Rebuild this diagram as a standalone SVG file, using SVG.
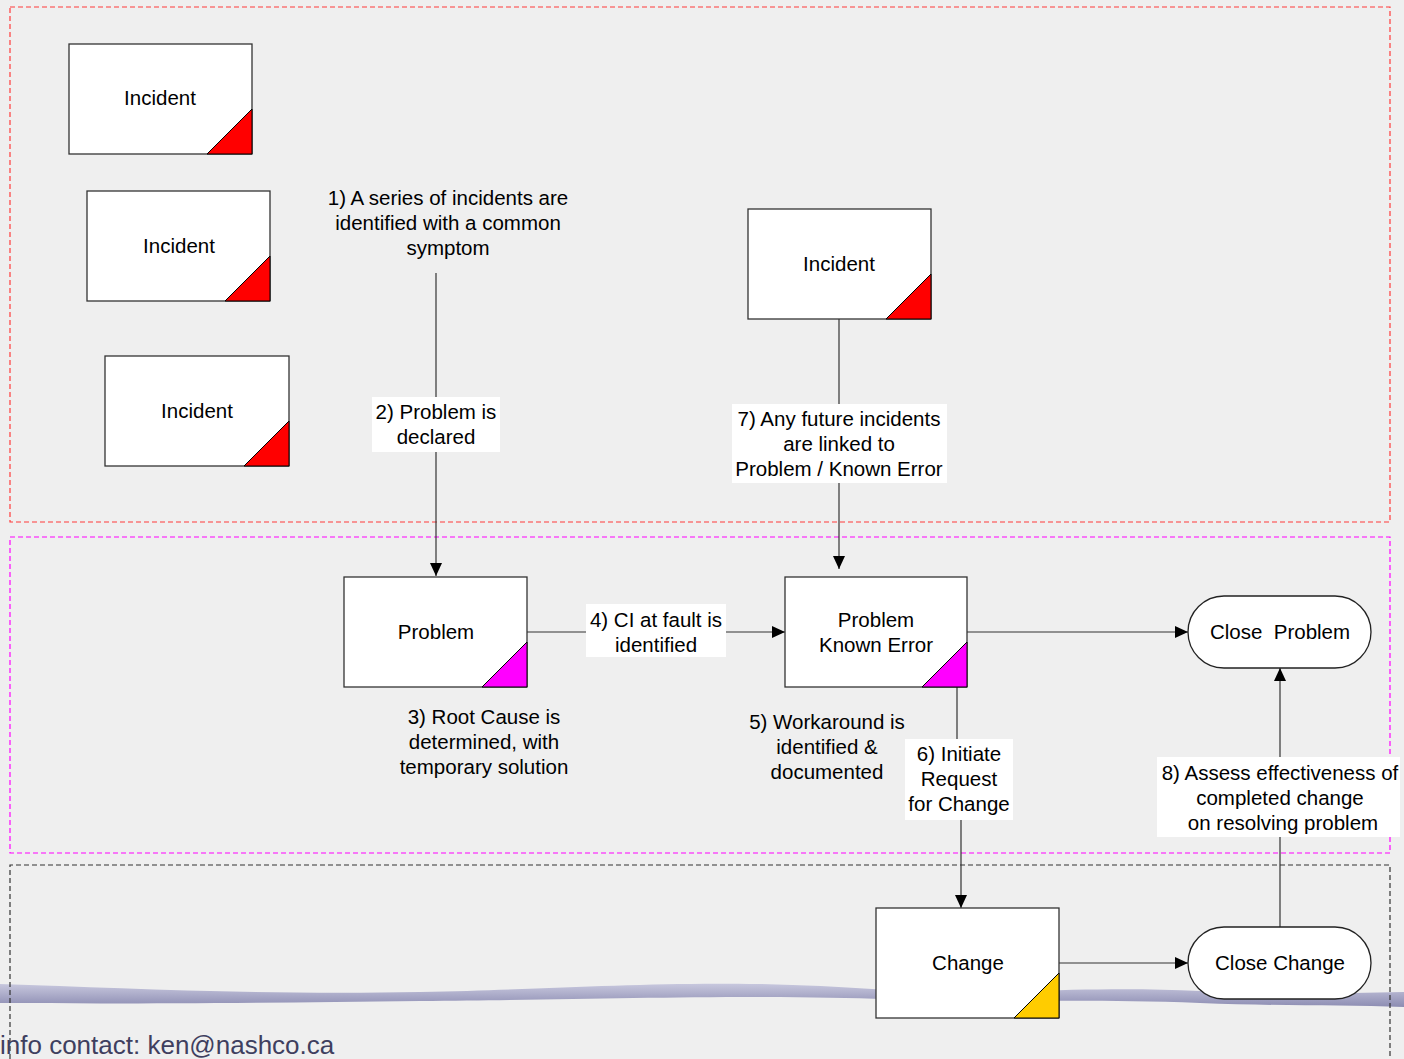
<svg xmlns="http://www.w3.org/2000/svg" width="1404" height="1059" viewBox="0 0 1404 1059">
  <defs>
    <marker id="arrow" viewBox="0 0 13 12" refX="13" refY="6" markerWidth="13" markerHeight="12" markerUnits="userSpaceOnUse" orient="auto">
      <path d="M0,0 L13,6 L0,12 Z" fill="#000"/>
    </marker>
    <linearGradient id="swoosh" x1="0" y1="0" x2="0" y2="1">
      <stop offset="0" stop-color="#c8c8de"/>
      <stop offset="1" stop-color="#8c8cb2"/>
    </linearGradient>
    <filter id="paper" x="0" y="0" width="100%" height="100%">
      <feTurbulence type="fractalNoise" baseFrequency="0.012 0.05" numOctaves="3" seed="4" result="n"/>
      <feColorMatrix in="n" type="matrix" values="0 0 0 0 0.86  0 0 0 0 0.86  0 0 0 0 0.86  0 0 0 0.9 -0.35"/>
    </filter>
    <style>
      text { font-family: "Liberation Sans", Arial, sans-serif; font-size: 20.5px; fill: #000; text-anchor: middle; }
      .box { fill: #fff; stroke: #333; stroke-width: 1.3; }
      .term { fill: #fff; stroke: #222; stroke-width: 1.3; }
      .edge { fill: none; stroke: #333; stroke-width: 1.2; }
      .lbl { fill: #fff; }
      .zone { fill: none; stroke-width: 1.2; stroke-dasharray: 5 3; }
      .corner { stroke: #000; stroke-width: 1; }
    </style>
  </defs>

  <!-- slide background with light paper grain -->
  <rect x="0" y="0" width="1404" height="1059" fill="#efefef"/>
  <rect x="0" y="0" width="1404" height="1059" filter="url(#paper)"/>
  <path d="M0,984 C120,988 260,995 420,992 C560,989 640,982 760,984 C860,986 920,995 1000,992 C1080,989 1140,988 1200,991 C1280,995 1340,993 1404,992 L1404,1007 C1340,1005 1280,1006 1200,1003 C1120,1000 1060,1001 1000,1001 C920,1001 860,997 760,997 C640,997 560,1000 420,1001 C260,1003 120,1004 0,1003 Z" fill="url(#swoosh)"/>

  <!-- swimlane zones -->
  <rect class="zone" x="10" y="7" width="1380" height="515" stroke="#ff3b3b"/>
  <rect class="zone" x="10" y="537" width="1380" height="316" stroke="#ff00ff"/>
  <path class="zone" d="M10,1059 V865 H1390 V1059" stroke="#333"/>

  <!-- connectors -->
  <g id="connectors">
    <line class="edge" x1="436" y1="273" x2="436" y2="576" marker-end="url(#arrow)"/>
    <line class="edge" x1="839" y1="319" x2="839" y2="569" marker-end="url(#arrow)"/>
    <line class="edge" x1="527" y1="632" x2="785" y2="632" marker-end="url(#arrow)"/>
    <line class="edge" x1="967" y1="632" x2="1188" y2="632" marker-end="url(#arrow)"/>
    <path class="edge" d="M957,687 V780 H961 V908" marker-end="url(#arrow)"/>
    <line class="edge" x1="1059" y1="963" x2="1188" y2="963" marker-end="url(#arrow)"/>
    <line class="edge" x1="1280" y1="927" x2="1280" y2="668" marker-end="url(#arrow)"/>

    <!-- connector labels -->
    <text x="448" y="205">1) A series of incidents are</text>
    <text x="448" y="230">identified with a common</text>
    <text x="448" y="255">symptom</text>

    <rect class="lbl" x="372" y="397" width="128" height="55"/>
    <text x="436" y="419">2) Problem is</text>
    <text x="436" y="444">declared</text>

    <text x="484" y="724">3) Root Cause is</text>
    <text x="484" y="749">determined, with</text>
    <text x="484" y="774">temporary solution</text>

    <rect class="lbl" x="586" y="604" width="140" height="53"/>
    <text x="656" y="627">4) CI at fault is</text>
    <text x="656" y="652">identified</text>

    <text x="827" y="729">5) Workaround is</text>
    <text x="827" y="754">identified &amp;</text>
    <text x="827" y="779">documented</text>

    <rect class="lbl" x="905" y="739" width="108" height="81"/>
    <text x="959" y="761">6) Initiate</text>
    <text x="959" y="786">Request</text>
    <text x="959" y="811">for Change</text>

    <rect class="lbl" x="732" y="404" width="215" height="79"/>
    <text x="839" y="426">7) Any future incidents</text>
    <text x="839" y="451">are linked to</text>
    <text x="839" y="476">Problem / Known Error</text>

    <rect class="lbl" x="1157" y="757" width="243" height="80"/>
    <text x="1280" y="780">8) Assess effectiveness of</text>
    <text x="1280" y="805">completed change</text>
    <text x="1283" y="830">on resolving problem</text>
  </g>

  <!-- nodes -->
  <g id="incident-1">
    <rect class="box" x="69" y="44" width="183" height="110"/>
    <path class="corner" d="M207,154 L252,109 L252,154 Z" fill="#ff0000"/>
    <text x="160" y="105">Incident</text>
  </g>
  <g id="incident-2">
    <rect class="box" x="87" y="191" width="183" height="110"/>
    <path class="corner" d="M225,301 L270,256 L270,301 Z" fill="#ff0000"/>
    <text x="179" y="253">Incident</text>
  </g>
  <g id="incident-3">
    <rect class="box" x="105" y="356" width="184" height="110"/>
    <path class="corner" d="M244,466 L289,421 L289,466 Z" fill="#ff0000"/>
    <text x="197" y="418">Incident</text>
  </g>
  <g id="incident-4">
    <rect class="box" x="748" y="209" width="183" height="110"/>
    <path class="corner" d="M886,319 L931,274 L931,319 Z" fill="#ff0000"/>
    <text x="839" y="271">Incident</text>
  </g>
  <g id="problem">
    <rect class="box" x="344" y="577" width="183" height="110"/>
    <path class="corner" d="M482,687 L527,642 L527,687 Z" fill="#ff00ff"/>
    <text x="436" y="639">Problem</text>
  </g>
  <g id="known-error">
    <rect class="box" x="785" y="577" width="182" height="110"/>
    <path class="corner" d="M922,687 L967,642 L967,687 Z" fill="#ff00ff"/>
    <text x="876" y="627">Problem</text>
    <text x="876" y="652">Known Error</text>
  </g>
  <g id="change">
    <rect class="box" x="876" y="908" width="183" height="110"/>
    <path class="corner" d="M1014,1018 L1059,973 L1059,1018 Z" fill="#ffcc00"/>
    <text x="968" y="970">Change</text>
  </g>
  <g id="close-problem">
    <rect class="term" x="1188" y="596" width="183" height="72" rx="36" ry="36"/>
    <text x="1280" y="639" xml:space="preserve">Close  Problem</text>
  </g>
  <g id="close-change">
    <rect class="term" x="1188" y="927" width="183" height="72" rx="36" ry="36"/>
    <text x="1280" y="970">Close Change</text>
  </g>

  <!-- footer -->
  <text x="0" y="1054" style="text-anchor:start; font-size:26px; fill:#3f3f5f;">info contact: ken@nashco.ca</text>
</svg>
